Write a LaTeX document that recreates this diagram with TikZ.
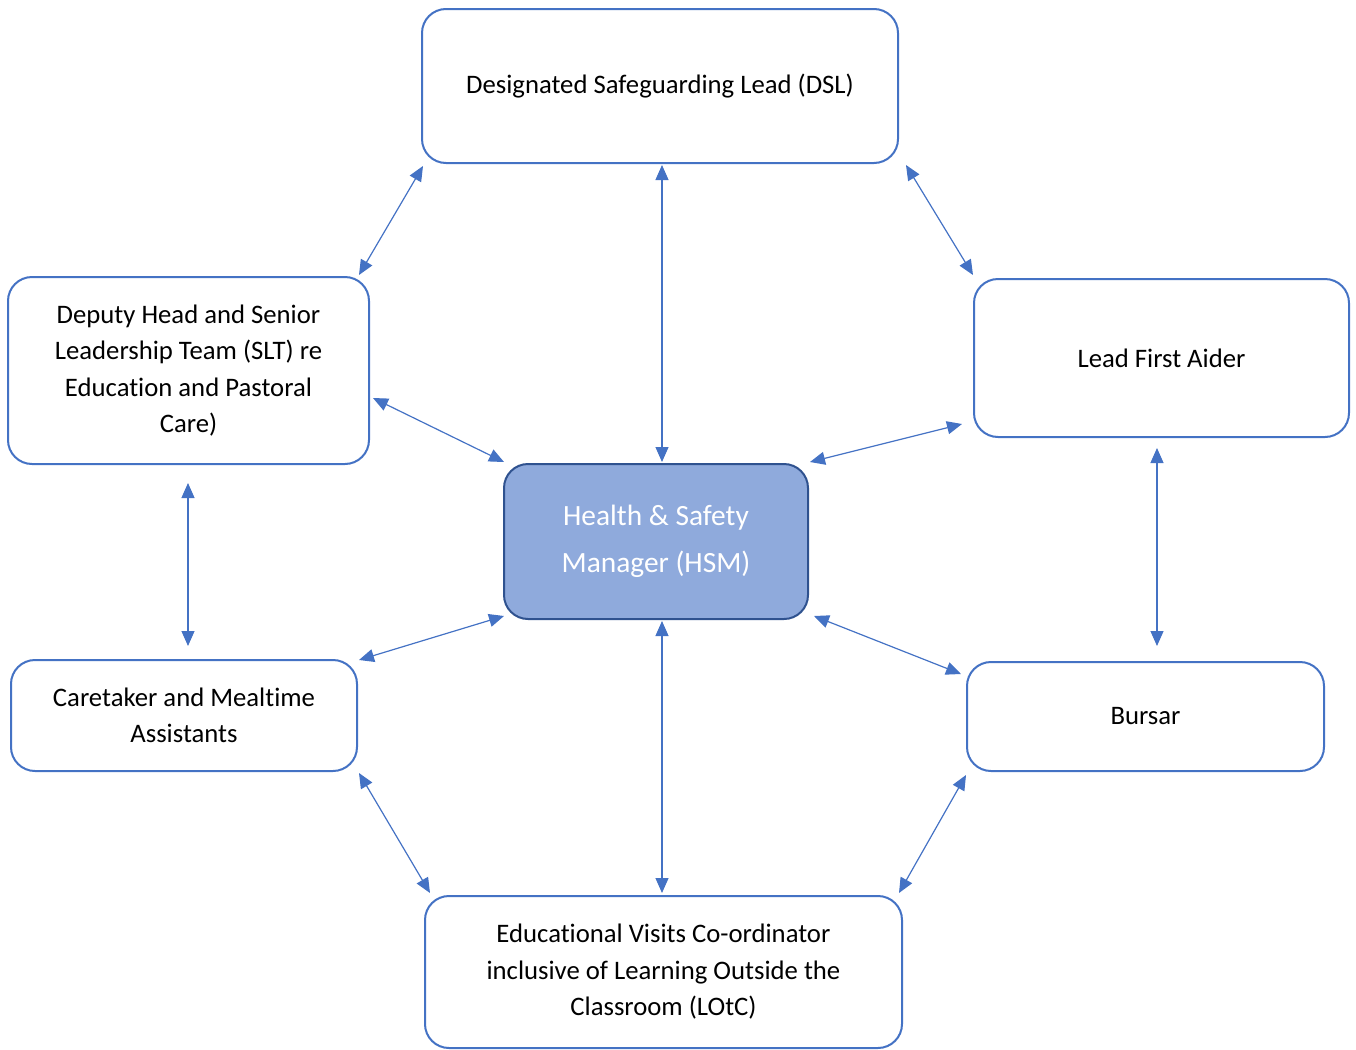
\documentclass[tikz,border=0pt]{standalone}
\usepackage{fontspec}
\setmainfont{Carlito}[Ligatures=NoCommon]
\usetikzlibrary{arrows.meta}
\tikzset{>={Triangle[length=7.5pt,width=6.5pt]}}
\definecolor{boxcol}{HTML}{4472C4}
\definecolor{hsmfill}{HTML}{8FAADC}
\definecolor{hsmline}{HTML}{2F528F}
\tikzset{
  role/.style={draw=boxcol,line width=1pt,fill=white,rounded corners=12pt,
    align=center,inner sep=0pt,font=\fontsize{13.35}{18.25}\selectfont},
  hsm/.style={role,draw=hsmline,fill=hsmfill,text=white,
    font=\fontsize{14.7}{23.5}\selectfont},
  link/.style={<->,boxcol,line width=0.6pt}
}

\begin{document}
\begin{tikzpicture}[x=0.5pt,y=-0.5pt]
  \useasboundingbox (0,0) rectangle (1356,1050);
  % boxes
  \node[role,minimum width=238pt,minimum height=77pt]   (DSL) at (660,86)    {Designated Safeguarding Lead (DSL)};
  \node[role,minimum width=180.5pt,minimum height=93.5pt] (SLT) at (188.5,370.5)
    {Deputy Head and Senior\\Leadership Team (SLT) re\\Education and Pastoral\\Care)};
  \node[role,minimum width=187.5pt,minimum height=79pt]  (LFA) at (1161.5,358) {Lead First Aider};
  \node[hsm,minimum width=152pt,minimum height=77.5pt]   (HSM) at (656,541.5) {Health \& Safety\\Manager (HSM)};
  \node[role,minimum width=173pt,minimum height=55.5pt]  (CMA) at (184,715.5) {Caretaker and Mealtime\\Assistants};
  \node[role,minimum width=178.5pt,minimum height=54.5pt] (BUR) at (1145.5,716.5) {Bursar};
  \node[role,minimum width=238.5pt,minimum height=76pt]  (EVC) at (663.5,972)
    {Educational Visits Co-ordinator\\inclusive of Learning Outside the\\Classroom (LOtC)};

  % arrow ends
  \coordinate (dsl-sw) at (423,166);  \coordinate (slt-ne) at (359,275);
  \coordinate (dsl-s)  at (662,165);  \coordinate (hsm-n)  at (662,462);
  \coordinate (dsl-se) at (906,165);  \coordinate (lfa-nw) at (973,275);
  \coordinate (slt-e)  at (373,398);  \coordinate (hsm-nw) at (504,462);
  \coordinate (lfa-w)  at (962,424);  \coordinate (hsm-ne) at (810,462);
  \coordinate (slt-s)  at (188,483);  \coordinate (cma-n)  at (188,646);
  \coordinate (lfa-s)  at (1157,448); \coordinate (bur-n)  at (1157,646);
  \coordinate (hsm-sw) at (504,616);  \coordinate (cma-ne) at (359,660);
  \coordinate (hsm-se) at (814,616);  \coordinate (bur-nw) at (961,674);
  \coordinate (hsm-s)  at (662,621);  \coordinate (evc-n)  at (662,893);
  \coordinate (cma-se) at (359,773);  \coordinate (evc-nw) at (430,893);
  \coordinate (bur-sw) at (966,775);  \coordinate (evc-ne) at (899,893);

  % links
  \draw[link] (dsl-sw) -- (slt-ne);
  \draw[link] (dsl-s) -- (hsm-n);
  \draw[link] (dsl-se) -- (lfa-nw);
  \draw[link] (slt-e) -- (hsm-nw);
  \draw[link] (lfa-w) -- (hsm-ne);
  \draw[link] (slt-s) -- (cma-n);
  \draw[link] (lfa-s) -- (bur-n);
  \draw[link] (hsm-sw) -- (cma-ne);
  \draw[link] (hsm-se) -- (bur-nw);
  \draw[link] (hsm-s) -- (evc-n);
  \draw[link] (cma-se) -- (evc-nw);
  \draw[link] (bur-sw) -- (evc-ne);
\end{tikzpicture}
\end{document}
